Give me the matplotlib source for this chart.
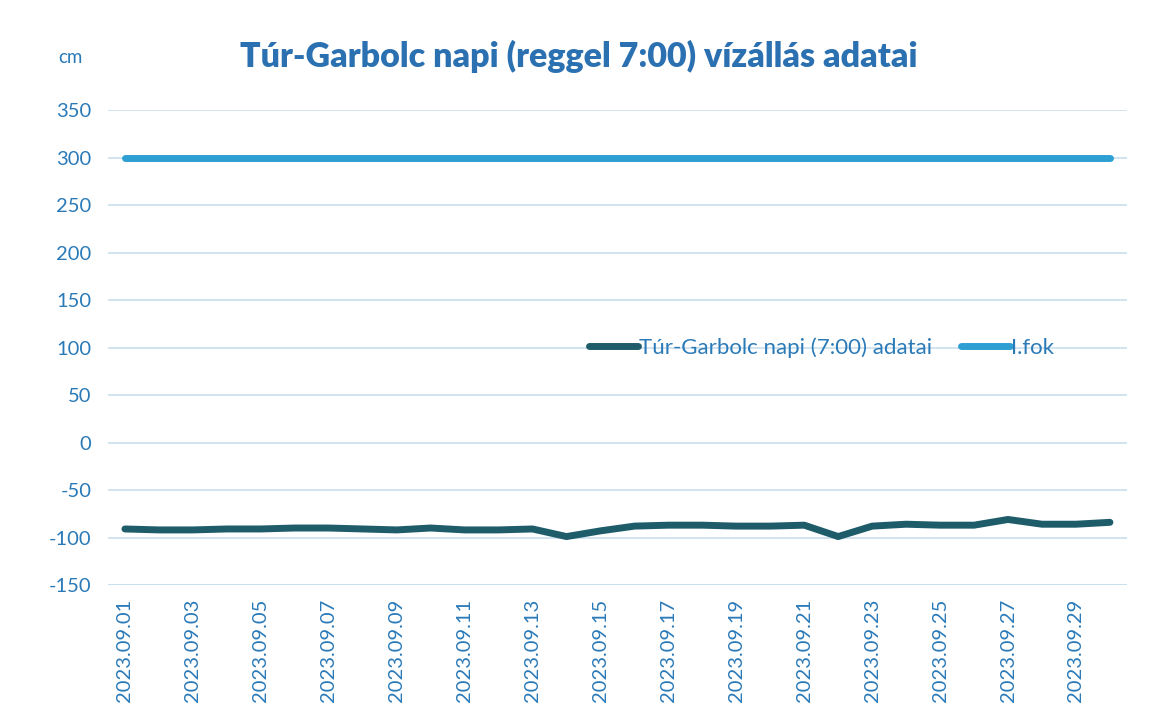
import matplotlib.pyplot as plt

days = list(range(1, 31))
date_labels = [f"2023.09.{d:02d}" for d in days]
vizallas = [-91, -92, -92, -91, -91, -90, -90, -91, -92, -90,
            -92, -92, -91, -99, -93, -88, -87, -87, -88, -88,
            -87, -99, -88, -86, -87, -87, -81, -86, -86, -84]
i_fok = [300] * 30

plt.rcParams['font.family'] = ['Lato', 'DejaVu Sans']
plt.rcParams['axes.unicode_minus'] = False
blue_txt = "#2a7ab8"

fig = plt.figure(figsize=(11.57, 7.21), dpi=100)
ax = fig.add_axes([0.0933, 0.1886, 0.8807, 0.6588])

ax.plot(days, vizallas, color="#1f5c6a", lw=5, solid_capstyle="round",
        solid_joinstyle="round", label="Túr-Garbolc napi (7:00) adatai")
ax.plot(days, i_fok, color="#2d9fd3", lw=5, solid_capstyle="round",
        label="I.fok")

ax.set_xlim(0.5, 30.5)
ax.set_ylim(-150, 350)
ax.set_yticks(range(-150, 351, 50))
ax.set_xticks(days[::2])
ax.set_xticklabels(date_labels[::2], rotation=90, fontsize=14.5, color=blue_txt)
ax.tick_params(axis='y', labelsize=14.5, colors=blue_txt, length=0, pad=12)
ax.tick_params(axis='x', length=0, pad=10)
ax.grid(axis='y', color="#c9dfee", lw=1.2)
for s in ax.spines.values():
    s.set_visible(False)
ax.axhline(-150, color="#c9dfee", lw=1.2)

fig.text(0.5, 0.922, "Túr-Garbolc napi (reggel 7:00) vízállás adatai",
         ha="center", va="center", fontsize=24.5, fontweight="heavy", color="#2b70b0")
fig.text(0.061, 0.92, "cm", ha="center", va="center", fontsize=13.5, color=blue_txt)

ax.legend(loc="center", bbox_to_anchor=(0.7, 0.50), ncol=2, frameon=False,
          fontsize=16, handlelength=2.2, handletextpad=0.05, columnspacing=1.3,
          labelcolor=blue_txt)

fig.savefig("out.png", dpi=100, facecolor="white")
